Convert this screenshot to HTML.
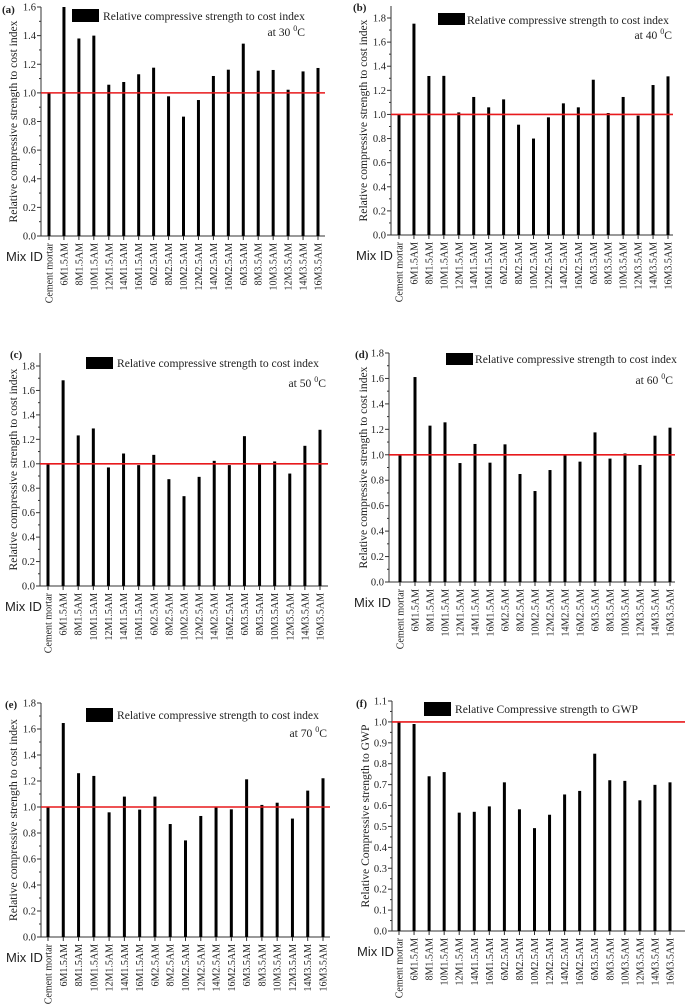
<!DOCTYPE html>
<html><head><meta charset="utf-8"><style>
html,body{margin:0;padding:0;background:#fff}
svg{display:block}
text{font-family:"Liberation Serif",serif;fill:#222}
</style></head><body>
<svg id="fig" width="685" height="1005" viewBox="0 0 685 1005" xmlns="http://www.w3.org/2000/svg"></svg>
<script>
const categories=["Cement mortar","6M1.5AM","8M1.5AM","10M1.5AM","12M1.5AM","14M1.5AM","16M1.5AM","6M2.5AM","8M2.5AM","10M2.5AM","12M2.5AM","14M2.5AM","16M2.5AM","6M3.5AM","8M3.5AM","10M3.5AM","12M3.5AM","14M3.5AM","16M3.5AM"];
const valuesA=[1.0,1.6,1.38,1.40,1.057,1.076,1.13,1.176,0.976,0.834,0.95,1.118,1.162,1.344,1.155,1.16,1.022,1.15,1.174];
const valuesB=[1.0,1.753,1.319,1.32,1.017,1.145,1.059,1.125,0.915,0.80,0.976,1.092,1.059,1.288,1.012,1.145,0.99,1.244,1.316];
const valuesC=[1.0,1.683,1.232,1.289,0.97,1.084,0.989,1.073,0.874,0.735,0.893,1.024,0.989,1.226,1.002,1.019,0.92,1.147,1.278];
const valuesD=[1.0,1.611,1.229,1.255,0.935,1.085,0.938,1.082,0.849,0.715,0.88,0.998,0.946,1.176,0.97,1.01,0.92,1.15,1.213];
const valuesE=[1.0,1.646,1.26,1.239,0.959,1.08,0.98,1.08,0.869,0.743,0.931,1.003,0.982,1.213,1.016,1.033,0.911,1.126,1.221];
const valuesF=[1.0,0.99,0.74,0.76,0.566,0.57,0.596,0.711,0.582,0.492,0.556,0.653,0.67,0.848,0.721,0.718,0.625,0.699,0.711];
const ticksCost16=["0.0","0.2","0.4","0.6","0.8","1.0","1.2","1.4","1.6"];
const ticksCost18=["0.0","0.2","0.4","0.6","0.8","1.0","1.2","1.4","1.6","1.8"];
const ticksGWP=["0.0","0.1","0.2","0.3","0.4","0.5","0.6","0.7","0.8","0.9","1.0","1.1"];
const refValue=1.0;

const NS="http://www.w3.org/2000/svg";
const svg=document.getElementById('fig');
function mk(tag,attrs,parent,txt){const e=document.createElementNS(NS,tag);for(const k in attrs)e.setAttribute(k,attrs[k]);if(txt!==undefined)e.textContent=txt;(parent||svg).appendChild(e);return e;}

const panels=[
 {id:'a',vals:valuesA,ticks:ticksCost16,ax:41,y0:236,ytop:7,vtop:1.6,axTop:7,x0:49,x18:318,right:325,redRight:325,
  lb:[72,9,27,13],lt:[103,20],l2:[305,36,"30"],lab:[2,8],yt:13,title:"Relative compressive strength to cost index"},
 {id:'b',vals:valuesB,ticks:ticksCost18,ax:391,y0:235,ytop:18,vtop:1.8,axTop:6,x0:399,x18:668,right:673,redRight:673,
  lb:[438,13,27,12],lt:[467,24],l2:[672,39,"40"],lab:[353,6],yt:363,title:"Relative compressive strength to cost index"},
 {id:'c',vals:valuesC,ticks:ticksCost18,ax:40,y0:586,ytop:366,vtop:1.8,axTop:353,x0:48,x18:320,right:328,redRight:328,
  lb:[86,357,27,12],lt:[117,367],l2:[326,387,"50"],lab:[10,353],yt:13,title:"Relative compressive strength to cost index"},
 {id:'d',vals:valuesD,ticks:ticksCost18,ax:389,y0:582,ytop:353,vtop:1.8,axTop:353,x0:400,x18:670,right:675,redRight:675,
  lb:[446,353,27,12],lt:[475,363],l2:[673,384,"60"],lab:[355,353],yt:363,title:"Relative compressive strength to cost index"},
 {id:'e',vals:valuesE,ticks:ticksCost18,ax:41,y0:937,ytop:703,vtop:1.8,axTop:703,x0:48,x18:323,right:330,redRight:330,
  lb:[86,708,27,14],lt:[117,719],l2:[327,737,"70"],lab:[5,703],yt:13,title:"Relative compressive strength to cost index"},
 {id:'f',vals:valuesF,ticks:ticksGWP,ax:392,y0:931,ytop:701,vtop:1.1,axTop:701,x0:399,x18:670,right:685,redRight:685,
  lb:[424,702,27,14],lt:[455,713],l2:null,lab:[356,702],yt:365,title:"Relative Compressive strength to GWP",ytitle:"Relative Compressive strength to GWP"}
];

panels.forEach(p=>{
  const g=mk('g',{});
  
  
  const n=p.ticks.length-1;
  const tmax=parseFloat(p.ticks[n]);
  const yScale=v=>p.y0-(v/p.vtop)*(p.y0-p.ytop);
  const xScale=i=>p.x0+i*(p.x18-p.x0)/(categories.length-1);
  const ya=mk('line',{x1:p.ax,y1:p.axTop,x2:p.ax,y2:p.y0,stroke:'#333','stroke-width':1},g);
  
  
  const xa=mk('line',{x1:p.ax,y1:p.y0,x2:p.right,y2:p.y0,stroke:'#333','stroke-width':1},g);
  
  
  p.ticks.forEach((t,i)=>{
    const v=parseFloat(t);const y=yScale(v);
    mk('line',{x1:p.ax-4,y1:y,x2:p.ax,y2:y,stroke:'#333'},g);
    if(i<n){const ym=yScale(v+(tmax/n)/2);mk('line',{x1:p.ax-2,y1:ym,x2:p.ax,y2:ym,stroke:'#333'},g);}
    const tl=mk('text',{x:p.ax-5,y:y+3.5,'font-size':10.5,'text-anchor':'end'},g,t);
    
    
  });
  categories.forEach((c,i)=>{
    const x=xScale(i);
    mk('line',{x1:x,y1:p.y0,x2:x,y2:p.y0+4,stroke:'#333'},g);
    const v=p.vals[i];const yt=yScale(v);
    const b=mk('rect',{x:x-1.5,y:yt,width:3,height:p.y0-yt,fill:'#000'},g);
    
    
    const lx=mk('text',{x:0,y:0,'font-size':10,'text-anchor':'end',transform:`translate(${x+3.5},${p.y0+7}) rotate(-90)`},g,c);
    
    
  });
  const ry=yScale(refValue);
  const rl=mk('line',{x1:p.ax,y1:ry,x2:p.redRight,y2:ry,stroke:'#e8191c','stroke-width':1.6},g);
  
  
  const lg=mk('g',{},g);
  
  
  mk('rect',{x:p.lb[0],y:p.lb[1],width:p.lb[2],height:p.lb[3],fill:'#000'},lg);
  mk('text',{x:p.lt[0],y:p.lt[1],'font-size':11.6},lg,p.title);
  if(p.l2){const t2=mk('text',{x:p.l2[0],y:p.l2[1],'font-size':11.6,'text-anchor':'end'},lg);
    t2.appendChild(document.createTextNode('at '+p.l2[2]+' '));
    mk('tspan',{'font-size':8,dy:-5},t2,'0');
    mk('tspan',{dy:5},t2,'C');}
  const pl=mk('text',{x:p.lab[0],y:p.lab[1]+5,'font-size':11,'font-weight':'bold'},g,'('+p.id+')');
  
  
  const cy=(p.axTop+p.y0)/2;
  const ytl=mk('text',{x:0,y:0,'font-size':11.6,'text-anchor':'middle',transform:`translate(${p.yt+4},${cy}) rotate(-90)`},g,p.ytitle||'Relative compressive strength to cost index');
  
  
  const mx=mk('text',{x:p.ax-35,y:p.y0+25,'font-size':13,style:'font-family:"Liberation Sans",sans-serif'},g,'Mix ID');
  
  
});
</script>
</body></html>
